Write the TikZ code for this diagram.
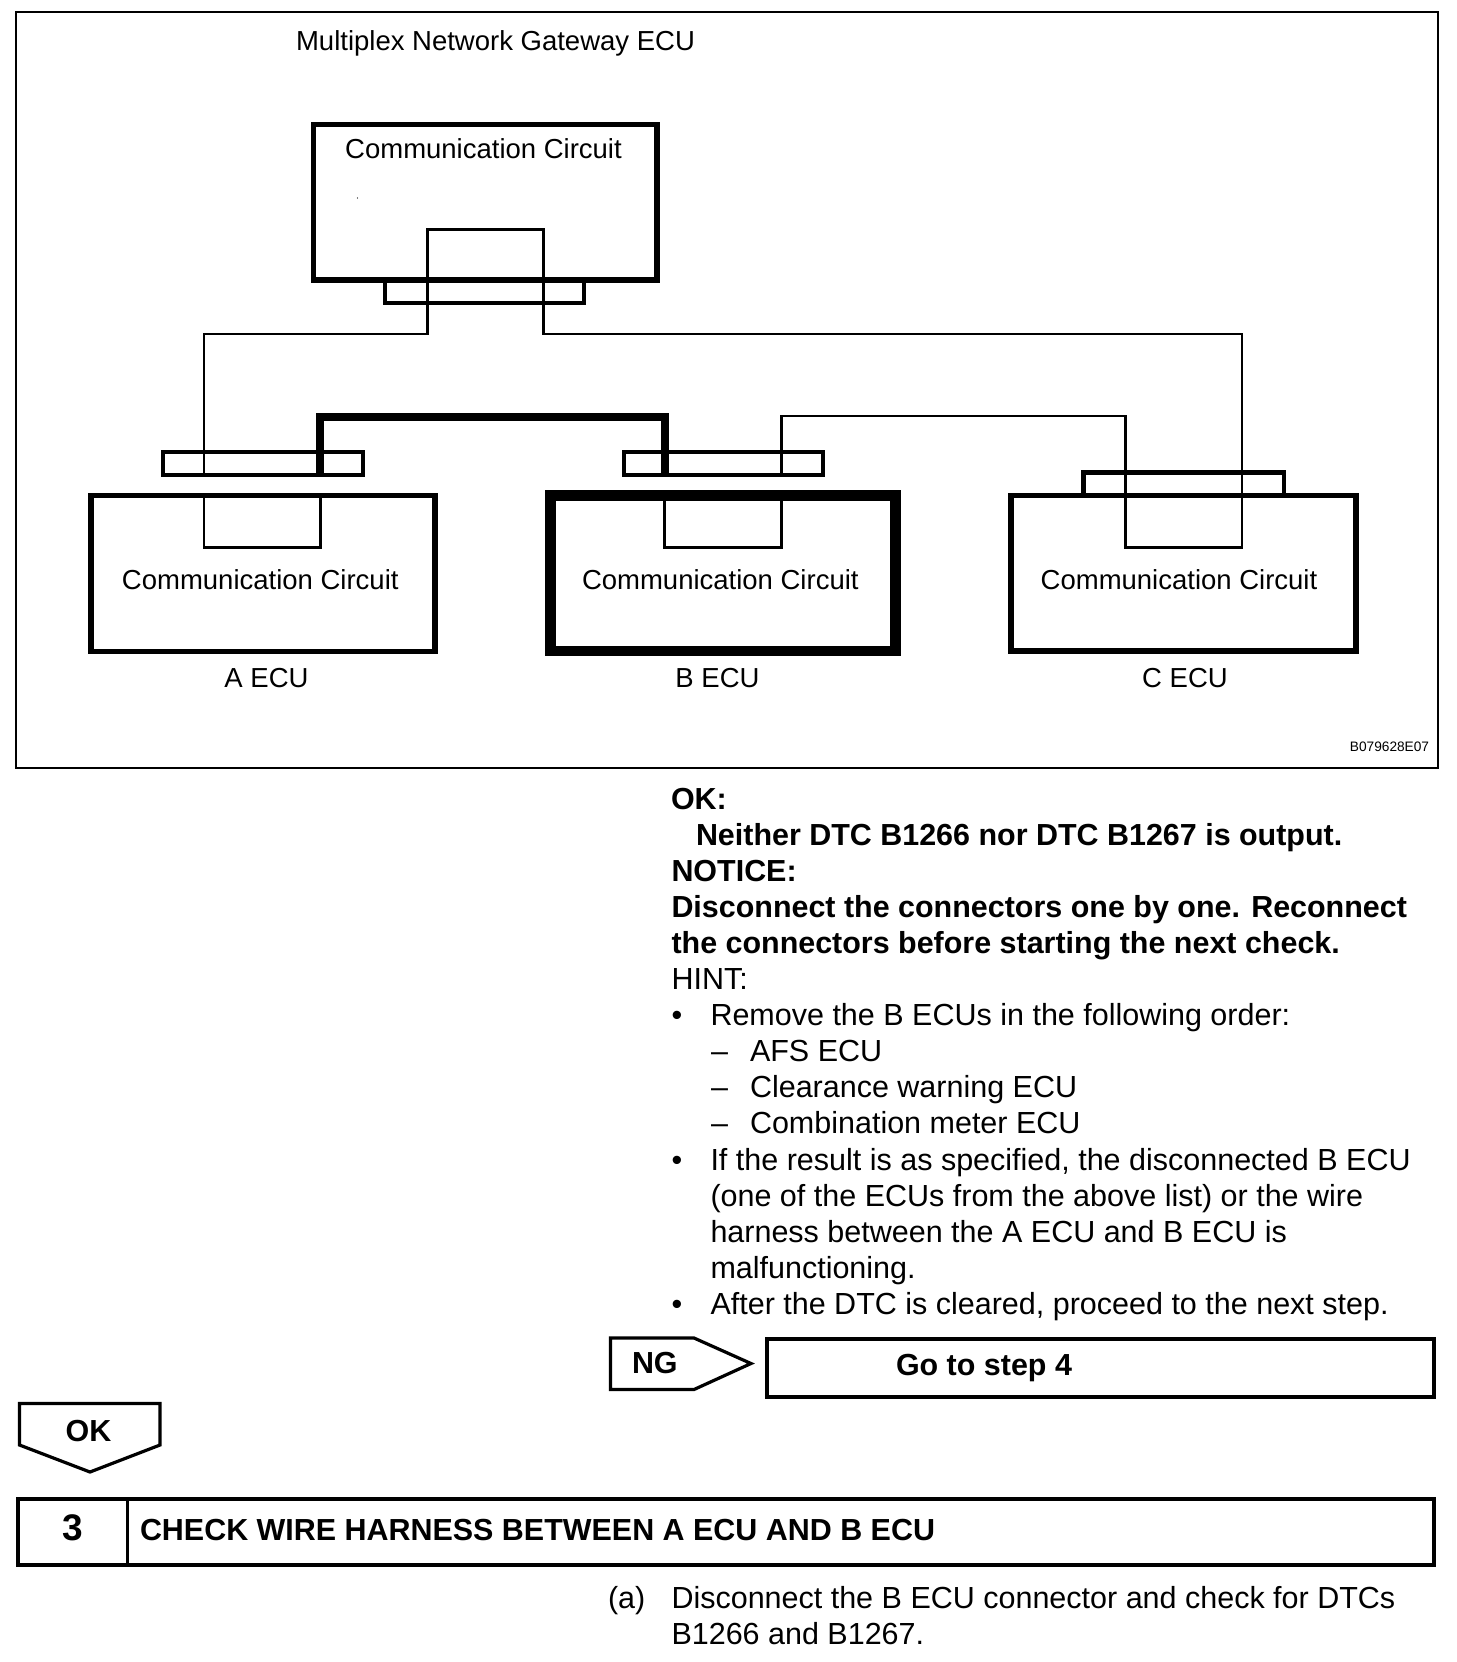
\documentclass[tikz,border=0pt]{standalone}
\usepackage{fontspec}
\setmainfont{Liberation Sans}
\begin{document}
\begin{tikzpicture}[x=1pt,y=-1pt,
  every node/.style={inner sep=0pt,outer sep=0pt},
  lab/.style={font=\fontsize{27.5}{30}\selectfont,anchor=base},
  body/.style={font=\fontsize{30.5}{34}\selectfont,anchor=base west},
  bold/.style={font=\fontsize{30.45}{34}\selectfont\bfseries,anchor=base west},
  ecu/.style={draw,line width=5.5pt},
  conn/.style={draw,line width=4.5pt},
  wire/.style={draw,line width=2.4pt,line join=miter},
  harness/.style={draw,line width=8pt,line join=miter},
  tag/.style={draw,line width=3.2pt,line join=miter},
  frame/.style={draw,line width=4pt}]
\useasboundingbox (0,0) rectangle (1456,1662);
\fill[white] (0,0) rectangle (1456,1662);

% outer frame
\node[draw,line width=2pt,minimum width=1422.5pt,minimum height=756pt] (outer) at (726.75,390) {};
\node[lab] (title) at (495.5,50.5) {Multiplex Network Gateway ECU};
\node[font=\fontsize{13.7}{15}\selectfont,anchor=base] (code) at (1389.5,751.7) {B079628E07};
\fill (357.5,198) circle (0.6pt);

% gateway
\node[ecu,minimum width=343.5pt,minimum height=155.5pt] (gw) at (485,202.25) {};
\node[conn,minimum width=199pt,minimum height=23pt] (gwc) at (484.5,291.5) {};
\node[lab] (gwt) at (483.5,158) {Communication Circuit};

% ECU A
\node[ecu,minimum width=344.2pt,minimum height=155.9pt] (a) at (262.9,573.5) {};
\node[conn,line width=4pt,minimum width=200pt,minimum height=22.5pt] (ac) at (262.5,463.25) {};
\node[lab] (at) at (260.3,589) {Communication Circuit};
\node[lab] (an) at (266.5,687) {A ECU};

% ECU B
\node[ecu,line width=10.6pt,minimum width=344.6pt,minimum height=155.5pt] (b) at (723,573.25) {};
\node[conn,line width=4pt,minimum width=199pt,minimum height=23pt] (bc) at (723,463) {};
\node[lab] (bt) at (720.3,589) {Communication Circuit};
\node[lab] (bn) at (717.5,687) {B ECU};

% ECU C
\node[ecu,minimum width=345pt,minimum height=155.5pt] (c) at (1183.5,573.25) {};
\node[conn,minimum width=200.5pt,minimum height=23pt] (cc) at (1183.75,484) {};
\node[lab] (ct) at (1179,589) {Communication Circuit};
\node[lab] (cn) at (1185,687) {C ECU};

% wire corners
\coordinate (p1) at (427.5,334);
\coordinate (p2) at (427.5,229.5);
\coordinate (p3) at (543.5,229.5);
\coordinate (p4) at (543.5,334);
\coordinate (p5) at (1242,334);
\coordinate (p6) at (1242,547.5);
\coordinate (p7) at (1125.4,547.5);
\coordinate (p8) at (1125.4,415.7);
\coordinate (p9) at (781.4,415.7);
\coordinate (p10) at (781.4,474);
\coordinate (p18) at (204,334);
\coordinate (p19) at (204,474);
% inner loops of A and B
\coordinate (a1) at (204,495);
\coordinate (a2) at (204,547.5);
\coordinate (a3) at (320.4,547.5);
\coordinate (a4) at (320.4,495);
\coordinate (b1) at (664.5,495);
\coordinate (b2) at (664.5,547.5);
\coordinate (b3) at (781.4,547.5);
\coordinate (b4) at (781.4,495);
% harness
\coordinate (h1) at (320.4,474);
\coordinate (h2) at (320.4,416.5);
\coordinate (h3) at (664.5,416.5);
\coordinate (h4) at (664.5,474);

\draw[wire] (p19) -- (p18) -- (p1) -- (p2) -- (p3) -- (p4) -- (p5) -- (p6) -- (p7) -- (p8) -- (p9) -- (p10);
\draw[wire] (a1) -- (a2) -- (a3) -- (a4);
\draw[wire] (b1) -- (b2) -- (b3) -- (b4);
\draw[harness] (h1) -- (h2) -- (h3) -- (h4);

% NG tag and destination
\coordinate (n1) at (610.5,1338);
\coordinate (n2) at (694,1338);
\coordinate (n3) at (751,1363.5);
\coordinate (n4) at (694,1389.5);
\coordinate (n5) at (610.5,1389.5);
\draw[tag] (n1) -- (n2) -- (n3) -- (n4) -- (n5) -- cycle;
\node[bold] (ng) at (632,1373) {NG};
\node[frame,minimum width=667pt,minimum height=58pt] (go) at (1100.5,1367.5) {};
\node[bold] (gotxt) at (896,1375) {Go to step 4};

% OK tag
\coordinate (k1) at (19.5,1403.5);
\coordinate (k2) at (160,1403.5);
\coordinate (k3) at (160,1445);
\coordinate (k4) at (90,1472);
\coordinate (k5) at (19.5,1445);
\draw[tag] (k1) -- (k2) -- (k3) -- (k4) -- (k5) -- cycle;
\node[bold,anchor=base] (ok) at (88.5,1441) {OK};

% step bar
\node[frame,minimum width=1416pt,minimum height=66pt] (bar) at (726,1531.5) {};
\draw[line width=2.8pt] (127.5,1498.5) -- (127.5,1564.5);
\node[font=\fontsize{37}{40}\selectfont\bfseries,anchor=base] (num) at (73,1540.7) {3};
\node[bold] (bartxt) at (140,1540) {CHECK WIRE HARNESS BETWEEN A ECU AND B ECU};

% text column
\node[bold] (l1) at (671,809) {OK:};
\node[bold] (l2) at (696,845) {Neither DTC B1266 nor DTC B1267 is output.};
\node[bold] (l3) at (671.5,881) {NOTICE:};
\node[bold] (l4) at (671.5,917) {Disconnect the connectors one by one. Reconnect};
\node[bold] (l5) at (671.5,953) {the connectors before starting the next check.};
\node[body] (l6) at (671.5,989) {HINT:};
\node[body] (b1t) at (671.5,1025) {•};
\node[body] (l7) at (710.5,1025) {Remove the B ECUs in the following order:};
\node[body] (d1) at (711,1061) {–};
\node[body] (l8) at (750,1061) {AFS ECU};
\node[body] (d2) at (711,1097) {–};
\node[body] (l9) at (750,1097) {Clearance warning ECU};
\node[body] (d3) at (711,1133) {–};
\node[body] (l10) at (750,1133) {Combination meter ECU};
\node[body] (b2t) at (671.5,1170) {•};
\node[body] (l11) at (710.5,1170) {If the result is as specified, the disconnected B ECU};
\node[body] (l12) at (710.5,1206) {(one of the ECUs from the above list) or the wire};
\node[body] (l13) at (710.5,1242) {harness between the A ECU and B ECU is};
\node[body] (l14) at (710.5,1278) {malfunctioning.};
\node[body] (b3t) at (671.5,1314) {•};
\node[body] (l15) at (710.5,1314) {After the DTC is cleared, proceed to the next step.};
\node[body] (a1t) at (608,1608.5) {(a)};
\node[body] (a2t) at (671.5,1608.5) {Disconnect the B ECU connector and check for DTCs};
\node[body] (a3t) at (671.5,1644.5) {B1266 and B1267.};
\end{tikzpicture}
\end{document}
